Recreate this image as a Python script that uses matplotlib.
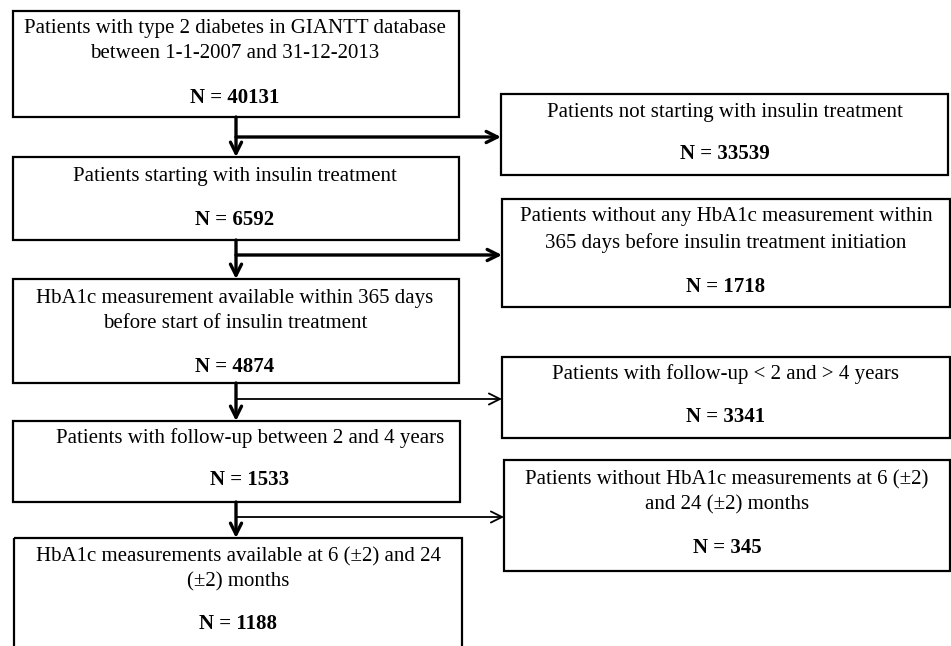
import matplotlib.pyplot as plt
from matplotlib.patches import Rectangle

# flow chart content
main_labels = [
    "Patients with type 2 diabetes in GIANTT database\nbetween 1-1-2007 and 31-12-2013",
    "Patients starting with insulin treatment",
    "HbA1c measurement available within 365 days\nbefore start of insulin treatment",
    "Patients with follow-up between 2 and 4 years",
    "HbA1c measurements available at 6 (\u00b12) and 24\n(\u00b12) months",
]
main_counts = [40131, 6592, 4874, 1533, 1188]

excl_labels = [
    "Patients not starting with insulin treatment",
    "Patients without any HbA1c measurement within\n365 days before insulin treatment initiation",
    "Patients with follow-up < 2 and > 4 years",
    "Patients without HbA1c measurements at 6 (\u00b12)\nand 24 (\u00b12) months",
]
excl_counts = [33539, 1718, 3341, 345]

# layout in pixels (top, bottom, text y, count y)
main_boxes = [(11, 117, 41, 98), (157, 240, 177, 220), (279, 383, 311, 367),
              (421, 502, 438, 480), (538, 660, 569, 624)]
main_x = [(13, 459), (13, 459), (13, 459), (13, 460), (14, 462)]
main_tx = [235, 235, 235, 250, 238]
excl_boxes = [(94, 175, 112, 154), (199, 307, 230, 287), (357, 438, 374, 417),
              (460, 571, 492, 548)]
excl_x = [(501, 948), (502, 950), (502, 950), (504, 950)]
branch_y = [137, 255, 399, 517]
branch_lw = [2.4, 2.4, 1.3, 1.3]
stem_x = 236

plt.rcParams['font.family'] = ['Liberation Serif', 'DejaVu Serif']
fig = plt.figure(figsize=(9.51, 6.46), dpi=100)
ax = fig.add_axes([0, 0, 1, 1])
ax.set_xlim(0, 951)
ax.set_ylim(646, 0)
ax.axis('off')

fs = 15

for i, lab in enumerate(main_labels):
    top, bot, ty, cy = main_boxes[i]
    x0, x1 = main_x[i]
    ax.add_patch(Rectangle((x0, top), x1 - x0, bot - top, fill=False,
                           lw=1.6, ec='black'))
    ax.text(main_tx[i], ty, lab, ha='center', va='center', fontsize=fs,
            linespacing=1.42)
    ax.text(main_tx[i], cy, "N = %d" % main_counts[i], ha='center',
            va='center', fontsize=fs, fontweight='bold')

for i, lab in enumerate(excl_labels):
    top, bot, ty, cy = excl_boxes[i]
    x0, x1 = excl_x[i]
    ax.add_patch(Rectangle((x0, top), x1 - x0, bot - top, fill=False,
                           lw=1.6, ec='black'))
    ax.text((x0 + x1) / 2, ty, lab, ha='center', va='center', fontsize=fs,
            linespacing=1.42)
    ax.text((x0 + x1) / 2, cy, "N = %d" % excl_counts[i], ha='center',
            va='center', fontsize=fs, fontweight='bold')

# arrows between boxes
for i in range(4):
    ax.annotate("", xy=(stem_x, main_boxes[i + 1][0]),
                xytext=(stem_x, main_boxes[i][1]),
                arrowprops=dict(arrowstyle='->', lw=2.4, color='black',
                                mutation_scale=20, shrinkA=0, shrinkB=0))
    ax.annotate("", xy=(excl_x[i][0], branch_y[i]),
                xytext=(stem_x, branch_y[i]),
                arrowprops=dict(arrowstyle='->', lw=branch_lw[i], color='black',
                                mutation_scale=20, shrinkA=0, shrinkB=0))

fig.savefig("out.png", dpi=100)
